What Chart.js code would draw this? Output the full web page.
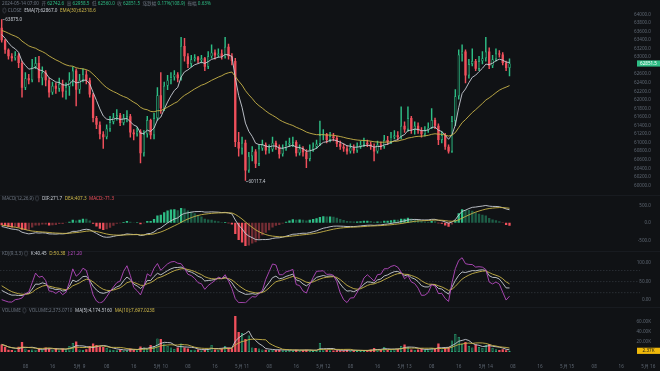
<!DOCTYPE html>
<html>
<head>
<meta charset="utf-8">
<script src="https://cdn.jsdelivr.net/npm/chart.js@4.4.1/dist/chart.umd.min.js"></script>
<style>
  html, body { margin: 0; padding: 0; background: #101215; }
  #wrap { position: relative; width: 660px; height: 371px; overflow: hidden; background: #101215;
          font-family: "Noto Sans", "Noto Sans CJK SC", sans-serif; }
  canvas { position: absolute; left: 0; }
  .lbl { position: absolute; left: 2px; font-size: 9.2px; line-height: 10px; white-space: nowrap;
         color: #6b7480; transform: scale(0.5); transform-origin: 0 0; }
  .lbl span { margin-right: 5px; }
  .up { color: #2ebd85; } .dn { color: #f0505c; } .wh { color: #c9ced6; } .ye { color: #d2bb4b; } .pu { color: #b54bc0; }
  .sep { position: absolute; left: 0; width: 660px; height: 1px; background: #181b20; }
</style>
</head>
<body>
<div id="wrap">
  <canvas id="main" width="660" height="195" style="top:0"></canvas>
  <canvas id="macd" width="660" height="56" style="top:195px"></canvas>
  <canvas id="kdj" width="660" height="56" style="top:251px"></canvas>
  <canvas id="vol" width="660" height="64" style="top:307px"></canvas>
  <div class="sep" style="top:195px"></div>
  <div class="sep" style="top:251px"></div>
  <div class="sep" style="top:307px"></div>

  <div class="lbl" style="top:1px"><span>2024-05-14 07:00</span><span>开 <b class="up" style="font-weight:normal">62742.6</b></span><span>高 <b class="up" style="font-weight:normal">62958.5</b></span><span>低 <b class="up" style="font-weight:normal">62560.0</b></span><span>收 <b class="up" style="font-weight:normal">62851.5</b></span><span>涨跌幅 <b class="up" style="font-weight:normal">0.17%(108.9)</b></span><span>振幅 <b class="up" style="font-weight:normal">0.63%</b></span></div>
  <div class="lbl" style="top:8px"><span>◎ CLOSE</span><span class="wh">EMA(7):62867.0</span><span class="ye">EMA(30):62318.6</span></div>
  <div class="lbl" style="top:196px"><span>MACD(12,26,9) ◎</span><span class="wh">DIF:271.7</span><span class="ye">DEA:407.3</span><span class="dn">MACD:-71.3</span></div>
  <div class="lbl" style="top:251px"><span>KDJ(9,3,3) ◎</span><span class="wh">K:40.45</span><span class="ye">D:50.38</span><span class="pu">J:21.20</span></div>
  <div class="lbl" style="top:307.5px"><span>VOLUME ◎</span><span>VOLUME:2,373.0710</span><span class="wh">MA(5):4,174.5160</span><span class="ye">MA(10):7,697.0238</span></div>
</div>

<script>
// BTC/USDT 1h candles, 2024-05-08 01:00 .. 2024-05-14 07:00
const opens = [
  63682, 63394, 63171, 63016, 62971, 63038, 62860, 62283, 62505, 62460,
  62771, 62860, 62505, 62638, 62460, 62172, 62327, 62260, 62372, 62194,
  62305, 62460, 62683, 62238, 62460, 62594, 62460, 62127, 61572, 61416,
  61194, 61127, 61327, 61483, 61594, 61638, 61460, 61572, 61616, 61238,
  61194, 61260, 60750, 61194, 61527, 61172, 61572, 62105, 61794, 62327,
  62460, 62527, 62594, 62505, 63260, 63016, 62838, 62949, 62994, 62927,
  62971, 62771, 63016, 63105, 63038, 63083, 63016, 63238, 63016, 62905,
  61016, 60861, 60994, 60350, 60683, 60794, 60505, 60861, 60950, 60816,
  60838, 60994, 60905, 60727, 60861, 60950, 60994, 61016, 60750, 60861,
  60772, 60616, 60838, 60905, 60972, 61172, 61194, 61061, 61149, 61105,
  60972, 60905, 60861, 60794, 60883, 60816, 60905, 60950, 60994, 60960,
  60905, 60794, 60950, 60905, 61061, 61016, 61127, 61172, 61127, 61394,
  61305, 61572, 61305, 61394, 61283, 61194, 61283, 61349, 61527, 61394,
  61061, 61172, 60905, 60794, 61505, 62083, 63060, 63127, 62571, 62838,
  62905, 62727, 62905, 62971, 63127, 62794, 62949, 63083, 63060, 62860,
  62742.6
];
const highs = [
  63875, 63416, 63194, 63083, 63127, 63083, 62905, 62638, 62594, 62949,
  62994, 63016, 62771, 62683, 62505, 62416, 62394, 62505, 62460, 62394,
  62638, 62771, 62727, 62594, 62727, 62683, 62505, 62149, 61616, 61483,
  61260, 61416, 61616, 61683, 61772, 61683, 61661, 61749, 61661, 61305,
  61349, 61305, 61283, 61616, 61549, 61683, 62283, 62638, 62416, 62571,
  62638, 62683, 62638, 63460, 63438, 63083, 63038, 63060, 63016, 63038,
  62994, 63127, 63283, 63171, 63194, 63171, 63460, 63305, 63083, 62971,
  61238, 61127, 61061, 60772, 60905, 60838, 60950, 61061, 60994, 60950,
  61127, 61038, 60950, 60950, 61038, 61105, 61127, 61050, 60950, 60905,
  60838, 60950, 60994, 61061, 61505, 61305, 61216, 61238, 61216, 61149,
  61038, 60972, 60927, 60972, 60950, 60994, 61038, 61105, 61061, 61016,
  60972, 61038, 61016, 61172, 61149, 61238, 61283, 61260, 61838, 61483,
  61838, 61616, 61483, 61460, 61349, 61372, 61460, 61794, 61572, 61438,
  61260, 61216, 60950, 61616, 62238, 63171, 63283, 63171, 62949, 63194,
  62949, 63016, 63127, 63460, 63216, 63038, 63194, 63149, 63105, 62905,
  62958.5
];
const lows = [
  63349, 63083, 62949, 62905, 62927, 62749, 62060, 62238, 62372, 62416,
  62727, 62416, 62349, 62327, 62060, 62127, 62149, 62194, 62060, 62016,
  62105, 62327, 61860, 62149, 62416, 62372, 62060, 61483, 61327, 61083,
  60861, 61083, 61260, 61438, 61527, 61394, 61416, 61483, 61127, 61061,
  61149, 60527, 60683, 61127, 61083, 61083, 61527, 61683, 61749, 62238,
  62372, 62460, 62416, 62460, 62905, 62749, 62771, 62905, 62860, 62860,
  62683, 62727, 62971, 62949, 62994, 62949, 62971, 62949, 62816, 60905,
  60683, 60727, 60117.4, 60300, 60572, 60416, 60461, 60816, 60727, 60750,
  60794, 60838, 60638, 60683, 60816, 60905, 60905, 60683, 60705, 60683,
  60416, 60572, 60794, 60861, 60927, 61061, 60994, 61016, 61038, 60905,
  60838, 60794, 60727, 60750, 60750, 60772, 60861, 60905, 60905, 60838,
  60572, 60750, 60838, 60861, 60950, 60972, 61083, 61061, 61083, 61238,
  61260, 61216, 61194, 61216, 61127, 61149, 61238, 61327, 61327, 60950,
  60994, 60838, 60750, 60772, 61394, 62016, 62905, 62394, 62505, 62794,
  62683, 62683, 62838, 62905, 62727, 62749, 62905, 62994, 62816, 62683,
  62560.0
];
const closes = [
  63394, 63171, 63016, 62971, 63038, 62860, 62283, 62505, 62460, 62771,
  62860, 62505, 62638, 62460, 62172, 62327, 62260, 62372, 62194, 62305,
  62460, 62683, 62238, 62460, 62594, 62460, 62127, 61572, 61416, 61194,
  61127, 61327, 61483, 61594, 61638, 61460, 61572, 61616, 61238, 61194,
  61260, 60750, 61194, 61527, 61172, 61572, 62105, 61794, 62327, 62460,
  62527, 62594, 62505, 63260, 63016, 62838, 62949, 62994, 62927, 62971,
  62771, 63016, 63105, 63038, 63083, 63016, 63238, 63016, 62905, 61016,
  60861, 60994, 60350, 60683, 60794, 60505, 60861, 60950, 60816, 60838,
  60994, 60905, 60727, 60861, 60950, 60994, 61016, 60750, 60861, 60772,
  60616, 60838, 60905, 60972, 61172, 61194, 61061, 61149, 61105, 60972,
  60905, 60861, 60794, 60883, 60816, 60905, 60950, 60994, 60960, 60905,
  60794, 60950, 60905, 61061, 61016, 61127, 61172, 61127, 61394, 61305,
  61572, 61305, 61394, 61283, 61194, 61283, 61349, 61527, 61394, 61061,
  61172, 60905, 60794, 61505, 62083, 63060, 63127, 62571, 62838, 62905,
  62727, 62905, 62971, 63127, 62794, 62949, 63083, 63060, 62860, 62742.6,
  62851.5
];
const volumes = [
  15000, 10500, 4500, 4000, 3000, 10500, 20000, 7000, 4000, 5000,
  4500, 7500, 4000, 9000, 7000, 4000, 7500, 3500, 7000, 5000,
  12000, 18000, 21000, 5000, 4000, 5500, 12000, 17000, 14000, 11000,
  10000, 8000, 5000, 4000, 3500, 5000, 3000, 3500, 7000, 4500,
  5000, 11000, 9000, 6000, 14000, 12000, 27000, 26000, 17000, 12000,
  9000, 6000, 9000, 17000, 9000, 7000, 4000, 4500, 5000, 3500,
  5000, 6000, 14000, 5000, 4000, 7000, 12000, 9000, 7500, 72000,
  40000, 38000, 26000, 33000, 9000, 8000, 7000, 5000, 4500, 4000,
  4000, 4000, 4500, 3500, 3000, 4000, 3000, 4500, 3000, 3500,
  4500, 3000, 2500, 3000, 18000, 5000, 4500, 3500, 3000, 3500,
  3500, 3000, 4000, 3000, 3000, 2500, 2500, 3000, 3000, 5000,
  8000, 5000, 4000, 10000, 4000, 5000, 5500, 6000, 12000, 15000,
  10000, 5000, 4000, 5000, 7000, 4000, 5500, 8000, 6000, 17000,
  5000, 8000, 10000, 23000, 36000, 30000, 16000, 20000, 12000, 9000,
  15000, 10000, 8000, 14000, 16000, 8100, 5500, 4000, 5500, 3500,
  2373.071
];

// axis ticks
const priceTicks = [64000, 63800, 63600, 63400, 63200, 63000, 62600, 62400, 62200, 62000,
                    61800, 61600, 61400, 61200, 61000, 60800, 60600, 60400, 60200, 60000];
const macdTicks = [500, 0, -500];
const kdjTicks = [100, 50, 0];
const kdjLevels = [80, 50, 20];
const volTicks = [60000, 40000, 20000];
const xTickHours = ['08', '16'];

// indicator start values (carried in from candles before the window)
const emaSeed = { ema7: 63571, ema30: 63638, ema12: 63560, ema26: 63660, dea: -60 };
const kdjSeed = { k: 35, d: 45 };

// hourly time axis: index 0 = 5/8 01:00, runs to 5/16 00:00
const timeLabels = [];
for (let i = 0; i < 192; i++) {
  const t = i + 1, h = t % 24, d = 8 + Math.floor(t / 24);
  timeLabels.push(h === 0 ? '5月 ' + d : String(h).padStart(2, '0'));
}

const up = '#2ebd85', down = '#f0505c', bg = '#101215';
const grey = '#5f6874', light = '#c9ced6', yellow = '#c9b44a', purple = '#b54bc0';
const fam = '"Noto Sans", "Liberation Sans", sans-serif';
const tickFont = { size: 4.6, family: fam };

function ema(src, n, seed) {
  const k = 2 / (n + 1);
  let prev = seed;
  return src.map(v => (prev = prev + k * (v - prev)));
}
function sma(src, n) {
  return src.map((v, i) => {
    const part = src.slice(Math.max(0, i - n + 1), i + 1);
    return part.reduce((a, b) => a + b, 0) / part.length;
  });
}

const rising = closes.map((c, i) => c >= opens[i]);
const colors = rising.map(r => r ? up : down);

const ema7 = ema(closes, 7, emaSeed.ema7);
const ema30 = ema(closes, 30, emaSeed.ema30);
const dif = ema(closes, 12, emaSeed.ema12).map((v, i, a) => v - ema(closes, 26, emaSeed.ema26)[i]);
const dea = ema(dif, 9, emaSeed.dea);
const hist = dif.map((v, i) => 2 * (v - dea[i]));
const histColors = hist.map((h, i) => {
  const p = i ? hist[i - 1] : h;
  if (h >= 0) return h >= p ? up : 'rgba(46,189,133,0.45)';
  return h <= p ? down : 'rgba(240,80,92,0.45)';
});

const K = [], D = [], J = [];
(function () {
  let k = kdjSeed.k, d = kdjSeed.d;
  closes.forEach((c, i) => {
    const from = Math.max(0, i - 8);
    const hh = Math.max(...highs.slice(from, i + 1));
    const ll = Math.min(...lows.slice(from, i + 1));
    const rsv = hh === ll ? 50 : (c - ll) / (hh - ll) * 100;
    k = (2 * k + rsv) / 3; d = (2 * d + k) / 3;
    K.push(k); D.push(d); J.push(3 * k - 2 * d);
  });
})();

const volMa5 = sma(volumes, 5), volMa10 = sma(volumes, 10);

function xAxis(show) {
  return {
    type: 'category', labels: timeLabels, offset: true, display: show,
    grid: { display: false }, border: { display: false },
    ticks: {
      autoSkip: false, maxRotation: 0, padding: 1.5, color: grey, font: tickFont,
      callback: v => {
        const l = timeLabels[v];
        return (l.startsWith('5月') || xTickHours.includes(l)) ? l : '';
      }
    }
  };
}
function yAxis(min, max, list, fmt) {
  return {
    position: 'right', min, max,
    grid: { display: false }, border: { display: false },
    afterBuildTicks: s => { s.ticks = list.map(v => ({ value: v })); },
    ticks: { mirror: true, padding: 1, autoSkip: false, color: grey, font: tickFont, callback: fmt }
  };
}
function baseOptions(showX, y) {
  return {
    responsive: false, animation: false, events: [],
    layout: { padding: 0 },
    plugins: { legend: { display: false }, tooltip: { enabled: false } },
    scales: { x: xAxis(showX), y }
  };
}
function line(data, color, order) {
  return { type: 'line', data, borderColor: color, borderWidth: 0.9, pointRadius: 0, tension: 0, order };
}

// main candles
const mainMarks = {
  id: 'mainMarks',
  afterDatasetsDraw(chart) {
    const { ctx, scales: { x, y } } = chart;
    ctx.save();
    ctx.font = '4.6px ' + fam;
    ctx.textBaseline = 'middle';
    const hi = highs.indexOf(Math.max(...highs));
    const lo = lows.indexOf(Math.min(...lows));
    let px = x.getPixelForValue(hi), py = y.getPixelForValue(highs[hi]);
    ctx.strokeStyle = '#c9ced6'; ctx.lineWidth = 0.6;
    ctx.beginPath(); ctx.moveTo(px + 1, py); ctx.lineTo(px + 3, py); ctx.stroke();
    ctx.fillStyle = '#c9ced6'; ctx.textAlign = 'left';
    ctx.fillText(highs[hi].toFixed(1), px + 3.5, py);
    px = x.getPixelForValue(lo); py = y.getPixelForValue(lows[lo]) + 1.2;
    ctx.beginPath(); ctx.moveTo(px + 0.5, py); ctx.lineTo(px + 2.5, py); ctx.stroke();
    ctx.fillText(lows[lo].toFixed(1), px + 3, py);
    const last = closes.length - 1;
    py = y.getPixelForValue(closes[last]);
    ctx.fillStyle = up;
    ctx.fillRect(637, py - 3, 23, 6.2);
    ctx.fillStyle = '#ffffff'; ctx.textAlign = 'center';
    ctx.fillText(closes[last].toFixed(1), 648.5, py + 0.2);
    ctx.restore();
  }
};
new Chart(document.getElementById('main'), {
  type: 'bar',
  data: {
    datasets: [
      { data: lows.map((l, i) => [l, highs[i]]), backgroundColor: colors, barThickness: 0.8, grouped: false, order: 3 },
      { data: opens.map((o, i) => [o, closes[i]]), backgroundColor: rising.map(r => r ? bg : down),
        borderColor: colors, borderWidth: rising.map(r => r ? 0.7 : 0), borderSkipped: false,
        barPercentage: 0.68, categoryPercentage: 1, grouped: false, minBarLength: 0.8, order: 2 },
      line(ema7, light, 1),
      line(ema30, yellow, 0)
    ]
  },
  options: baseOptions(false, yAxis(59863, 64245, priceTicks, v => v.toFixed(1))),
  plugins: [mainMarks]
});

// MACD
new Chart(document.getElementById('macd'), {
  type: 'bar',
  data: {
    datasets: [
      { data: hist, backgroundColor: histColors, barPercentage: 0.68, categoryPercentage: 1, order: 2 },
      line(dif, light, 1),
      line(dea, yellow, 0)
    ]
  },
  options: baseOptions(false, yAxis(-697, 685, macdTicks, v => v.toFixed(1)))
});

// KDJ
const kdjLines = {
  id: 'kdjLines',
  beforeDatasetsDraw(chart) {
    const { ctx, chartArea: a, scales: { y } } = chart;
    ctx.save();
    ctx.strokeStyle = '#3a3f48'; ctx.lineWidth = 0.6; ctx.setLineDash([1.5, 1.5]);
    kdjLevels.forEach(v => {
      const py = y.getPixelForValue(v);
      ctx.beginPath(); ctx.moveTo(a.left, py); ctx.lineTo(640, py); ctx.stroke();
    });
    ctx.restore();
  }
};
new Chart(document.getElementById('kdj'), {
  type: 'line',
  data: { datasets: [line(K, light, 2), line(D, yellow, 1), line(J, purple, 0)] },
  options: baseOptions(false, yAxis(-8.7, 122.8, kdjTicks, v => v.toFixed(2))),
  plugins: [kdjLines]
});

// volume
const volMark = {
  id: 'volMark',
  afterDatasetsDraw(chart) {
    const { ctx, scales: { y } } = chart;
    const v = volumes[volumes.length - 1];
    const py = y.getPixelForValue(v);
    ctx.save();
    ctx.fillStyle = '#f0b90b';
    ctx.fillRect(637, py - 3, 23, 6.2);
    ctx.fillStyle = '#1a1a1a'; ctx.font = '4.6px ' + fam;
    ctx.textAlign = 'center'; ctx.textBaseline = 'middle';
    ctx.fillText((v / 1000).toFixed(2) + 'K', 648.5, py + 0.2);
    ctx.restore();
  }
};
new Chart(document.getElementById('vol'), {
  type: 'bar',
  data: {
    datasets: [
      { data: volumes, backgroundColor: rising.map(r => r ? 'rgba(46,189,133,0.35)' : down),
        borderColor: colors, borderWidth: rising.map(r => r ? 0.6 : 0), borderSkipped: false,
        barPercentage: 0.68, categoryPercentage: 1, order: 2 },
      line(volMa5, light, 1),
      line(volMa10, yellow, 0)
    ]
  },
  options: baseOptions(true, yAxis(-5171, 82433, volTicks, v => (v / 1000).toFixed(2) + 'K')),
  plugins: [volMark]
});
</script>
</body>
</html>
